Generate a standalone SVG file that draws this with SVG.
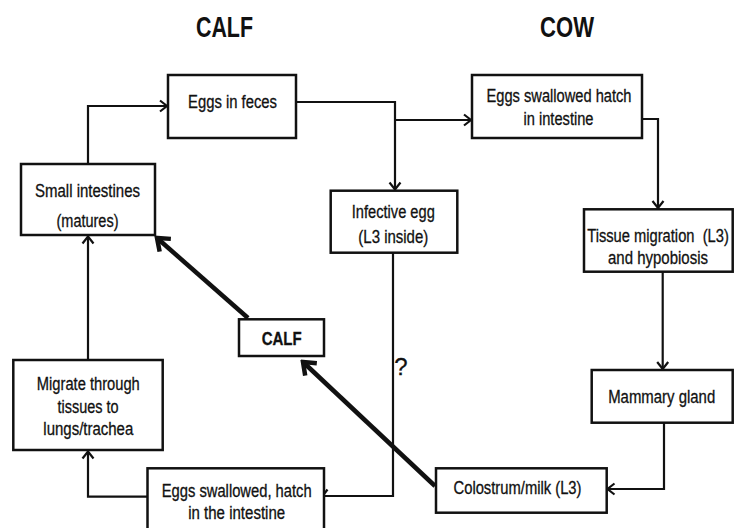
<svg xmlns="http://www.w3.org/2000/svg" width="735" height="528" viewBox="0 0 735 528">
<style>
.box{fill:#fff;stroke:#111;stroke-width:2.5}
.t{font-family:"Liberation Sans",Arial,sans-serif;font-size:17.5px;fill:#111;stroke:#111;stroke-width:0.3;text-anchor:middle}
.b{font-weight:bold}
.ttl{font-family:"Liberation Sans",Arial,sans-serif;font-size:29px;font-weight:bold;fill:#111;text-anchor:middle}
.c{fill:none;stroke:#111;stroke-width:2.2}
.ck{fill:none;stroke:#111;stroke-width:4.5}
</style>
<defs>
<marker id="a" viewBox="-9 -7 11 14" markerWidth="11" markerHeight="14" refX="0" refY="0" orient="auto" markerUnits="userSpaceOnUse">
<path d="M-7,-5.5 L0,0 L-7,5.5" fill="none" stroke="#111" stroke-width="2.2"/>
</marker>
<marker id="ak" viewBox="-14 -11 17 22" markerWidth="17" markerHeight="22" refX="0" refY="0" orient="auto" markerUnits="userSpaceOnUse">
<path d="M-11,-8.5 L0,0 L-11,8.5" fill="none" stroke="#111" stroke-width="4.5"/>
</marker>
</defs>
<rect width="735" height="528" fill="#fff"/>
<text class="ttl" x="224.5" y="36.5" textLength="57" lengthAdjust="spacingAndGlyphs">CALF</text>
<text class="ttl" x="567" y="36.5" textLength="54" lengthAdjust="spacingAndGlyphs">COW</text>
<g id="connectors">
<path class="c" d="M88,164 V106 H167" marker-end="url(#a)"/>
<path class="c" d="M296,102 H395 V189.5" marker-end="url(#a)"/>
<path class="c" d="M395,120 H471" marker-end="url(#a)"/>
<path class="c" d="M642,119 H658 V208" marker-end="url(#a)"/>
<path class="c" d="M662.7,272 V369" marker-end="url(#a)"/>
<path class="c" d="M664,423 V489 H607.5" marker-end="url(#a)"/>
<path class="c" d="M393,253 V496 H325"/>
<path class="c" d="M318.5,489.5 L323,495.5 L327.5,489.5"/>
<path class="c" d="M147.7,496.7 H88 V451.5" marker-end="url(#a)"/>
<path class="c" d="M88,360 V236.5" marker-end="url(#a)"/>
<path class="ck" d="M435,486 L303,362" marker-end="url(#ak)"/>
<path class="ck" d="M248,318 L157,238" marker-end="url(#ak)"/>
<text class="t" x="401" y="375" style="font-size:24px">?</text>
</g>
<g id="eggs-feces">
<rect class="box" x="168" y="75" width="128" height="63"/>
<text class="t" x="232.5" y="107.7" textLength="89" lengthAdjust="spacingAndGlyphs">Eggs in feces</text>
</g>
<g id="eggs-swallowed-cow">
<rect class="box" x="472" y="75" width="170" height="63"/>
<text class="t" x="559" y="102" textLength="145" lengthAdjust="spacingAndGlyphs">Eggs swallowed hatch</text>
<text class="t" x="558.5" y="125" textLength="70" lengthAdjust="spacingAndGlyphs">in intestine</text>
</g>
<g id="small-intestines">
<rect class="box" x="21" y="164" width="134" height="71"/>
<text class="t" x="87.5" y="197.3" textLength="105" lengthAdjust="spacingAndGlyphs">Small intestines</text>
<text class="t" x="87.5" y="227" textLength="62" lengthAdjust="spacingAndGlyphs">(matures)</text>
</g>
<g id="infective-egg">
<rect class="box" x="330.7" y="190.7" width="126.6" height="62"/>
<text class="t" x="393.3" y="218.3" textLength="83" lengthAdjust="spacingAndGlyphs">Infective egg</text>
<text class="t" x="393.3" y="243" textLength="70" lengthAdjust="spacingAndGlyphs">(L3 inside)</text>
</g>
<g id="tissue-migration">
<rect class="box" x="584" y="209.3" width="148.7" height="62.4"/>
<text class="t" transform="translate(658,241.7) scale(0.84,1)" x="0" y="0" xml:space="preserve">Tissue migration  (L3)</text>
<text class="t" x="658" y="264" textLength="100" lengthAdjust="spacingAndGlyphs">and hypobiosis</text>
</g>
<g id="calf-node">
<rect class="box" x="239" y="319.3" width="85" height="36.7"/>
<text class="t b" x="281.7" y="345" textLength="40" lengthAdjust="spacingAndGlyphs">CALF</text>
</g>
<g id="migrate">
<rect class="box" x="13.3" y="360" width="149.4" height="90"/>
<text class="t" x="88.3" y="390" textLength="103" lengthAdjust="spacingAndGlyphs">Migrate through</text>
<text class="t" x="88" y="412.5" textLength="61" lengthAdjust="spacingAndGlyphs">tissues to</text>
<text class="t" x="88.3" y="434.5" textLength="90" lengthAdjust="spacingAndGlyphs">lungs/trachea</text>
</g>
<g id="mammary">
<rect class="box" x="591.7" y="370" width="141" height="52.7"/>
<text class="t" x="661.7" y="403" textLength="107" lengthAdjust="spacingAndGlyphs">Mammary gland</text>
</g>
<g id="colostrum">
<rect class="box" x="436" y="468.3" width="170.7" height="44.4"/>
<text class="t" x="517.5" y="494" textLength="128" lengthAdjust="spacingAndGlyphs">Colostrum/milk (L3)</text>
</g>
<g id="eggs-swallowed-calf">
<rect class="box" x="147.5" y="468.3" width="176.5" height="70"/>
<text class="t" x="236.7" y="497" textLength="150" lengthAdjust="spacingAndGlyphs">Eggs swallowed, hatch</text>
<text class="t" x="236.7" y="519" textLength="97" lengthAdjust="spacingAndGlyphs">in the intestine</text>
</g>
</svg>
